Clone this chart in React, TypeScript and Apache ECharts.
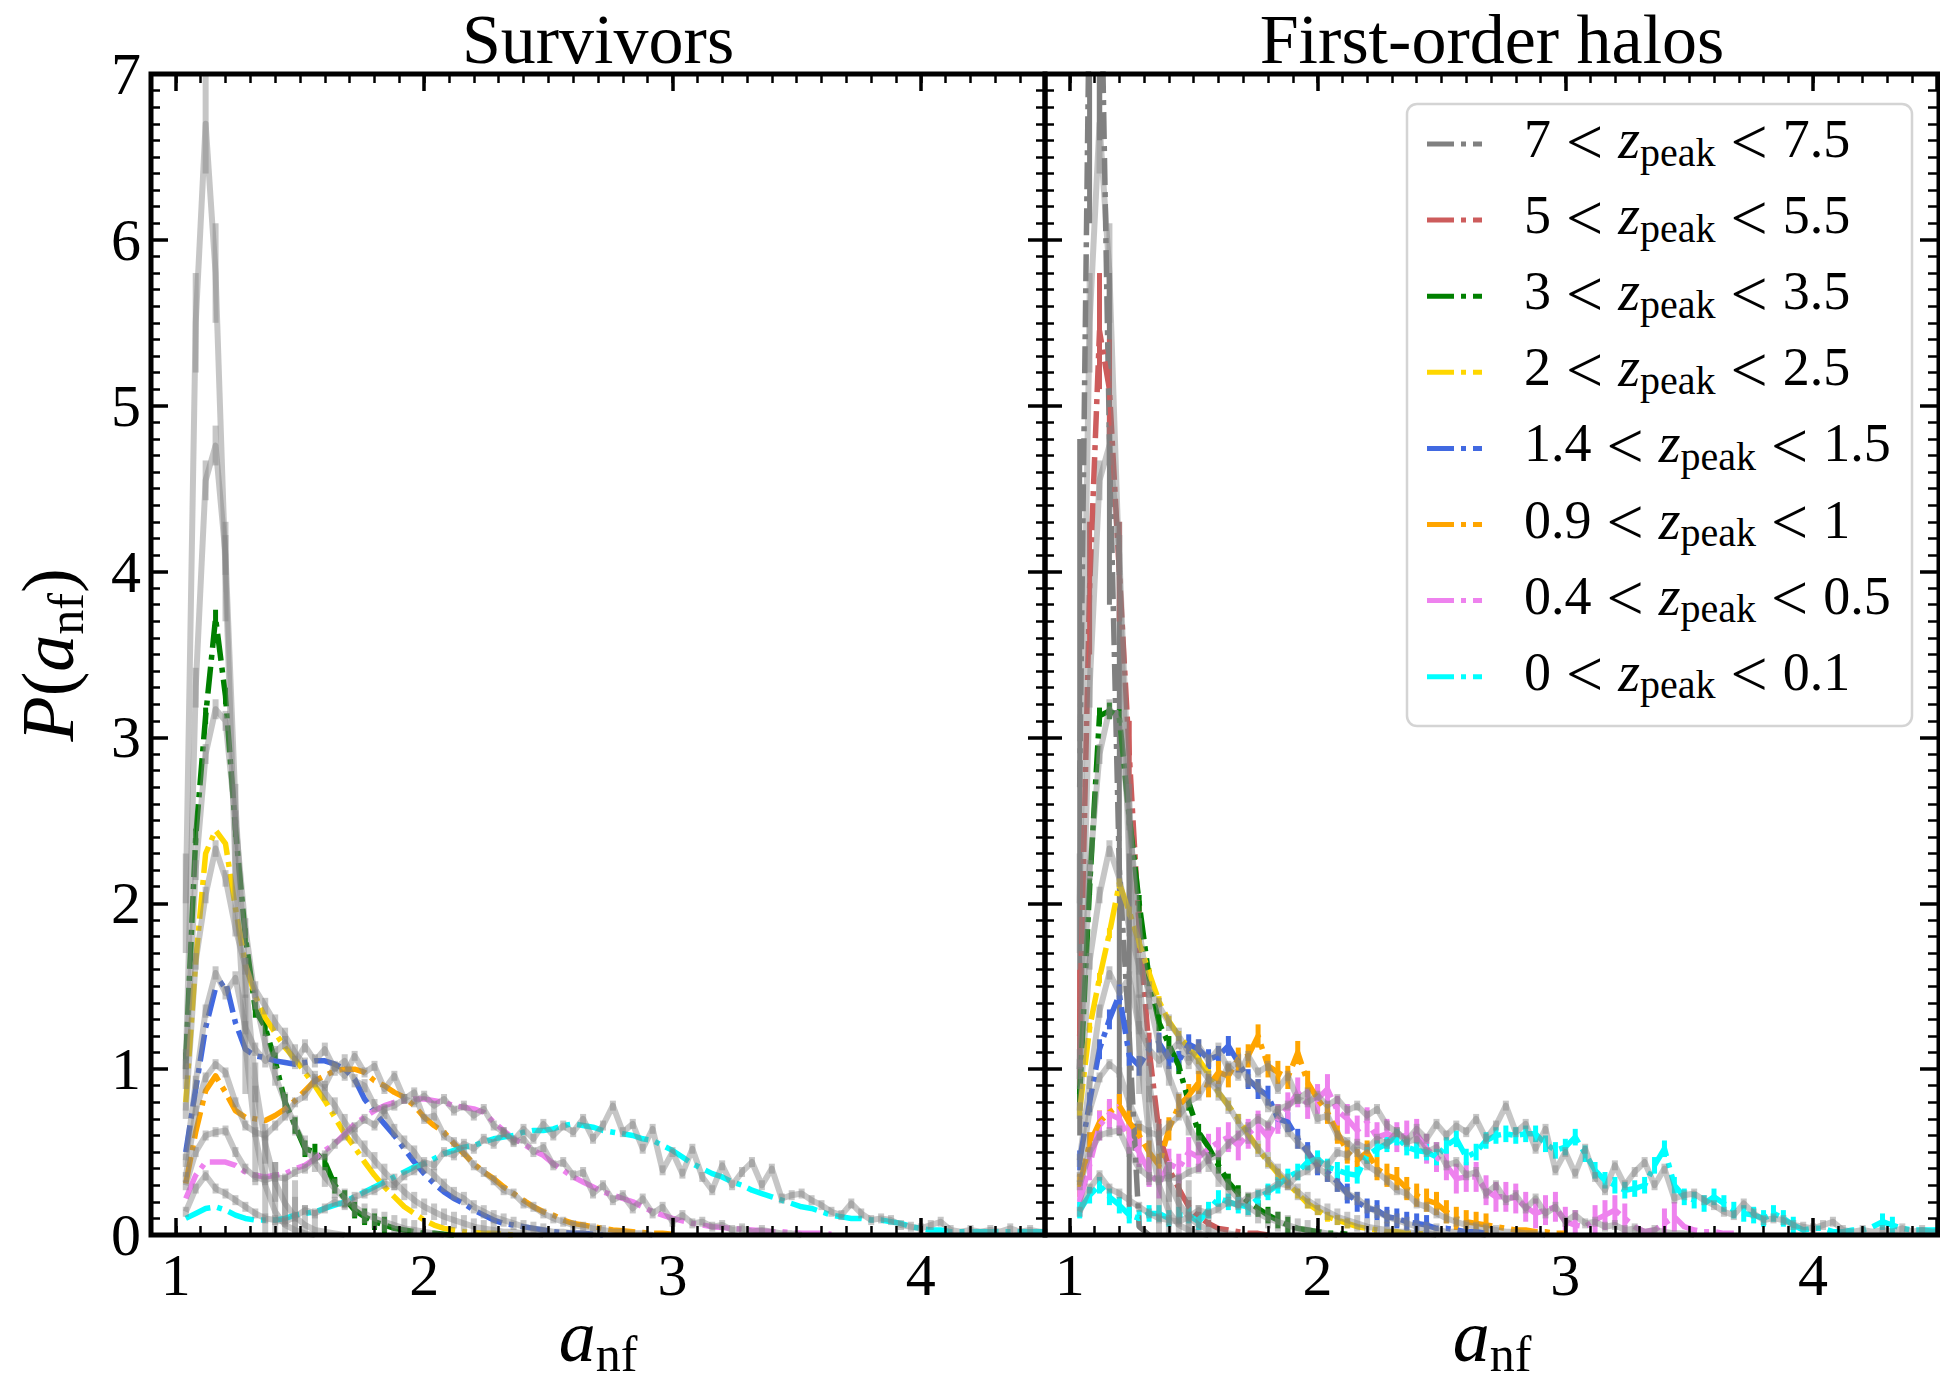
import React, { useEffect, useRef } from "react";
import * as echarts from "echarts";

// ---- histogram layout: bin centres a_nf = BIN_START + i * BIN_WIDTH ----
const BIN_START = 1.04;
const BIN_WIDTH = 0.04;

const X_RANGE = [0.9, 4.5];
const Y_RANGE = [0, 7];
const PANEL_TITLES = ["Survivors", "First-order halos"];

// redshift bins (legend order)
const Z_LOW = ["7", "5", "3", "2", "1.4", "0.9", "0.4", "0"];
const Z_HIGH = ["7.5", "5.5", "3.5", "2.5", "1.5", "1", "0.5", "0.1"];

// ---- grey reference distributions, one per redshift bin (both panels) ----
const REF_Z7 = [2.0, 5.5, 6.7, 5.8, 4.0, 2.2, 1.15, 0.6, 0.3, 0.14, 0.06, 0.03, 0.01, 0.0];
const REF_Z5 = [1.0, 3.3, 4.55, 4.76, 4.1, 2.6, 1.55, 0.92, 0.55, 0.32, 0.19, 0.11, 0.06, 0.03, 0.02, 0.01, 0.0];
const REF_Z3 = [
  1.0, 2.2, 2.9, 3.17, 3.1, 2.5, 1.85, 1.42, 1.15, 0.96,
  0.8, 0.66, 0.54, 0.44, 0.35, 0.28, 0.22, 0.17, 0.13, 0.1,
  0.08, 0.06, 0.04, 0.03, 0.02, 0.01, 0.0,
];
const REF_Z2 = [
  0.75, 1.65, 2.05, 2.33, 2.15, 1.85, 1.62, 1.48, 1.38, 1.28,
  1.2, 1.1, 1.02, 0.94, 0.86, 0.78, 0.68, 0.6, 0.52, 0.45,
  0.38, 0.32, 0.26, 0.21, 0.17, 0.14, 0.11, 0.09, 0.07, 0.05,
  0.04, 0.03, 0.02, 0.02, 0.01, 0.01, 0.0,
];
const REF_Z14 = [
  0.45, 0.92, 1.35, 1.58, 1.46, 1.55, 1.25, 1.12, 1.05, 1.1,
  1.16, 1.04, 1.14, 1.05, 1.12, 1.0, 1.05, 0.93, 0.9, 0.78,
  0.74, 0.63, 0.56, 0.5, 0.41, 0.36, 0.3, 0.25, 0.22, 0.17,
  0.14, 0.11, 0.09, 0.07, 0.05, 0.04, 0.03, 0.02, 0.02, 0.01,
  0.01, 0.0,
];
const REF_Z09 = [
  0.35, 0.75, 0.95, 1.03, 0.98, 0.8, 0.66, 0.62, 0.6, 0.66,
  0.72, 0.8, 0.84, 0.94, 0.9, 1.02, 0.96, 1.08, 0.98, 1.02,
  0.88, 0.96, 0.82, 0.86, 0.7, 0.72, 0.6, 0.56, 0.5, 0.42,
  0.38, 0.33, 0.27, 0.25, 0.19, 0.17, 0.13, 0.1, 0.08, 0.06,
  0.05, 0.04, 0.03, 0.02, 0.02, 0.01, 0.01, 0.0,
];
const REF_Z04 = [
  0.3, 0.5, 0.6, 0.62, 0.63, 0.5, 0.4, 0.35, 0.33, 0.35,
  0.34, 0.38, 0.4, 0.46, 0.48, 0.55, 0.6, 0.65, 0.7, 0.66,
  0.76, 0.78, 0.82, 0.8, 0.84, 0.78, 0.82, 0.75, 0.78, 0.72,
  0.76, 0.66, 0.62, 0.56, 0.58, 0.5, 0.53, 0.42, 0.44, 0.36,
  0.38, 0.25, 0.3, 0.21, 0.24, 0.16, 0.22, 0.13, 0.17, 0.08,
  0.12, 0.07, 0.08, 0.05, 0.06, 0.03, 0.04, 0.02, 0.03, 0.02,
  0.01, 0.01, 0.0,
];
const REF_Z0 = [
  0.14, 0.28, 0.36, 0.28, 0.25, 0.21, 0.17, 0.13, 0.1, 0.09,
  0.08, 0.11, 0.15, 0.13, 0.16, 0.2, 0.18, 0.23, 0.25, 0.27,
  0.31, 0.3, 0.36, 0.39, 0.44, 0.42, 0.5, 0.48, 0.55, 0.52,
  0.58, 0.55, 0.62, 0.57, 0.64, 0.58, 0.67, 0.6, 0.66, 0.62,
  0.7, 0.58, 0.66, 0.78, 0.62, 0.67, 0.52, 0.64, 0.39, 0.5,
  0.37, 0.52, 0.35, 0.27, 0.42, 0.3, 0.38, 0.44, 0.3, 0.4,
  0.22, 0.24, 0.25, 0.21, 0.18, 0.14, 0.12, 0.19, 0.13, 0.09,
  0.1, 0.09, 0.06, 0.05, 0.04, 0.06, 0.08, 0.03, 0.02, 0.03,
  0.02, 0.03, 0.02, 0.04, 0.02, 0.03, 0.02, 0.02,
];
const REF_ERR = [0.3, 0.12, 0.06, 0.05, 0.04, 0.03, 0.03, 0.03];

// ---- survivors (left panel); no survivors in the two highest bins ----
const SURV_Z3 = [
  1.05, 2.4, 3.13, 3.72, 3.25, 2.45, 1.8, 1.36, 1.25, 1.05,
  0.8, 0.66, 0.52, 0.5, 0.44, 0.3, 0.22, 0.15, 0.11, 0.08,
  0.06, 0.04, 0.03, 0.02, 0.01, 0.01, 0.005, 0.0,
];
const SURV_Z2 = [
  0.8, 1.65, 2.3, 2.44, 2.36, 1.97, 1.63, 1.44, 1.31, 1.22,
  1.13, 1.06, 0.98, 0.9, 0.81, 0.71, 0.61, 0.53, 0.44, 0.36,
  0.29, 0.23, 0.17, 0.13, 0.09, 0.06, 0.04, 0.03, 0.02, 0.015,
  0.01, 0.01, 0.005, 0.0,
];
const SURV_Z14 = [
  0.5, 0.88, 1.25, 1.49, 1.53, 1.28, 1.12, 1.08, 1.07, 1.05,
  1.04, 1.03, 1.04, 1.05, 1.05, 1.03, 1.0, 0.94, 0.82, 0.74,
  0.67, 0.6, 0.52, 0.44, 0.37, 0.31, 0.26, 0.22, 0.19, 0.15,
  0.12, 0.09, 0.07, 0.06, 0.05, 0.04, 0.03, 0.02, 0.015, 0.01,
  0.01, 0.005, 0.0,
];
const SURV_Z09 = [
  0.31, 0.62, 0.87, 0.96, 0.86, 0.75, 0.71, 0.7, 0.69, 0.72,
  0.76, 0.81, 0.87, 0.93, 0.96, 0.99, 1.0, 1.0, 0.98, 0.93,
  0.9, 0.86, 0.83, 0.78, 0.71, 0.66, 0.62, 0.55, 0.49, 0.43,
  0.38, 0.34, 0.29, 0.25, 0.21, 0.17, 0.14, 0.12, 0.09, 0.07,
  0.06, 0.05, 0.04, 0.03, 0.025, 0.02, 0.015, 0.01, 0.01, 0.005,
];
const SURV_Z04 = [
  0.22, 0.36, 0.44, 0.44, 0.44, 0.42, 0.38, 0.36, 0.35, 0.36,
  0.37, 0.4, 0.42, 0.46, 0.51, 0.55, 0.61, 0.67, 0.71, 0.75,
  0.78, 0.8, 0.81, 0.82, 0.82, 0.81, 0.8, 0.78, 0.77, 0.76,
  0.74, 0.68, 0.63, 0.58, 0.55, 0.51, 0.48, 0.43, 0.39, 0.35,
  0.32, 0.29, 0.26, 0.24, 0.22, 0.2, 0.17, 0.14, 0.12, 0.1,
  0.085, 0.07, 0.06, 0.05, 0.045, 0.04, 0.035, 0.03, 0.025, 0.02,
  0.02, 0.015, 0.01, 0.01, 0.01, 0.005,
];
const SURV_Z0 = [
  0.1, 0.13, 0.16, 0.17, 0.15, 0.12, 0.1, 0.09, 0.09, 0.09,
  0.1, 0.12, 0.13, 0.14, 0.16, 0.18, 0.2, 0.23, 0.26, 0.29,
  0.32, 0.35, 0.38, 0.41, 0.43, 0.46, 0.49, 0.51, 0.53, 0.54,
  0.56, 0.58, 0.59, 0.6, 0.62, 0.63, 0.63, 0.64, 0.66, 0.67,
  0.66, 0.65, 0.63, 0.62, 0.61, 0.6, 0.58, 0.57, 0.54, 0.51,
  0.47, 0.43, 0.4, 0.37, 0.35, 0.32, 0.3, 0.27, 0.25, 0.23,
  0.21, 0.19, 0.17, 0.16, 0.14, 0.12, 0.11, 0.1, 0.1, 0.09,
  0.09, 0.08, 0.07, 0.05, 0.04, 0.03, 0.03, 0.02, 0.02, 0.02,
  0.02, 0.02, 0.02, 0.02, 0.02, 0.02, 0.02, 0.02,
];
const SURV_ERR = [0, 0, 0.05, 0, 0, 0, 0, 0];

// ---- first-order halos (right panel) ----
const FIRST_Z7 = [2.7, 7.6, 8.2, 4.8, 2.2, 1.2, 0.05, 0.0];
const FIRST_Z7_ERR = [2.1, 1.5, 1.6, 1.0, 1.6, 1.1, 0.3, 0];
const FIRST_Z5 = [
  1.2, 3.9, 5.45, 5.1, 4.0, 2.9, 1.85, 1.12, 0.62, 0.4,
  0.28, 0.17, 0.11, 0.07, 0.04, 0.03, 0.02, 0.01, 0.01, 0.0,
];
const FIRST_Z5_ERR = [
  0.4, 0.4, 0.35, 0.3, 0.3, 0.2, 0.15, 0.1, 0.08, 0.06,
  0.05, 0.04, 0.03, 0.02, 0.02, 0.01, 0, 0, 0, 0,
];
const FIRST_Z3 = [
  0.85, 2.1, 3.13, 3.16, 3.12, 2.52, 2.0, 1.55, 1.28, 1.15,
  1.02, 0.8, 0.62, 0.53, 0.42, 0.32, 0.25, 0.2, 0.16, 0.12,
  0.09, 0.06, 0.04, 0.03, 0.02, 0.01, 0.01, 0.005,
];
const FIRST_Z2 = [
  0.75, 1.25, 1.55, 1.82, 2.12, 1.95, 1.76, 1.58, 1.41, 1.29,
  1.2, 1.13, 1.06, 0.97, 0.86, 0.78, 0.7, 0.61, 0.52, 0.44,
  0.37, 0.31, 0.25, 0.19, 0.15, 0.11, 0.09, 0.07, 0.05, 0.04,
  0.03, 0.02, 0.02, 0.01, 0.01, 0.005,
];
const FIRST_Z14 = [
  0.45, 0.8, 1.12, 1.3, 1.45, 1.08, 1.02, 1.12, 1.16, 1.06,
  1.05, 1.15, 1.12, 1.06, 1.08, 1.14, 1.04, 0.94, 0.88, 0.84,
  0.7, 0.68, 0.58, 0.5, 0.42, 0.38, 0.32, 0.25, 0.2, 0.16,
  0.15, 0.11, 0.1, 0.08, 0.07, 0.06, 0.04, 0.04, 0.03, 0.02,
  0.02, 0.01,
];
const FIRST_Z09 = [
  0.3, 0.55, 0.68, 0.74, 0.78, 0.68, 0.6, 0.5, 0.42, 0.64,
  0.78, 0.84, 0.92, 0.9, 0.98, 0.96, 1.06, 1.08, 1.2, 1.02,
  0.98, 0.95, 1.1, 0.92, 0.82, 0.74, 0.62, 0.5, 0.45, 0.5,
  0.4, 0.36, 0.34, 0.28, 0.24, 0.21, 0.19, 0.14, 0.1, 0.08,
  0.07, 0.06, 0.05, 0.04, 0.03, 0.03, 0.02, 0.02, 0.01, 0.01,
];
const FIRST_Z04 = [
  0.2, 0.42, 0.66, 0.73, 0.7, 0.58, 0.5, 0.38, 0.31, 0.43,
  0.4, 0.5, 0.47, 0.52, 0.56, 0.59, 0.54, 0.61, 0.66, 0.59,
  0.7, 0.77, 0.86, 0.79, 0.82, 0.88, 0.75, 0.7, 0.63, 0.68,
  0.59, 0.61, 0.59, 0.6, 0.61, 0.52, 0.47, 0.42, 0.34, 0.35,
  0.35, 0.27, 0.23, 0.23, 0.22, 0.17, 0.13, 0.15, 0.17, 0.08,
  0.06, 0.05, 0.09, 0.12, 0.15, 0.1, 0.05, 0.02, 0.03, 0.07,
  0.11, 0.05, 0.03, 0.02, 0.02, 0.01, 0.01,
];
const FIRST_Z0 = [
  0.15, 0.24, 0.3, 0.23, 0.18, 0.12, 0.1, 0.13, 0.13, 0.1,
  0.12, 0.12, 0.08, 0.15, 0.22, 0.2, 0.18, 0.17, 0.22, 0.26,
  0.3, 0.35, 0.38, 0.44, 0.46, 0.41, 0.39, 0.37, 0.36, 0.48,
  0.52, 0.55, 0.59, 0.53, 0.51, 0.5, 0.47, 0.54, 0.58, 0.47,
  0.5, 0.57, 0.6, 0.61, 0.6, 0.61, 0.61, 0.55, 0.51, 0.53,
  0.59, 0.49, 0.39, 0.33, 0.3, 0.27, 0.28, 0.3, 0.42, 0.52,
  0.3, 0.23, 0.21, 0.19, 0.23, 0.19, 0.15, 0.13, 0.12, 0.1,
  0.13, 0.1, 0.06, 0.03, 0.04, 0.04, 0.02, 0.02, 0.03, 0.03,
  0.05, 0.08, 0.06, 0.04, 0.03, 0.03, 0.03, 0.03,
];
const FIRST_ERR: (number | number[])[] = [FIRST_Z7_ERR, FIRST_Z5_ERR, 0.05, 0.03, 0.06, 0.07, 0.09, 0.05];

const REF_CURVES = [REF_Z7, REF_Z5, REF_Z3, REF_Z2, REF_Z14, REF_Z09, REF_Z04, REF_Z0];
const PANEL_CURVES = [
  { curves: [null, null, SURV_Z3, SURV_Z2, SURV_Z14, SURV_Z09, SURV_Z04, SURV_Z0], errors: SURV_ERR as (number | number[])[] },
  { curves: [FIRST_Z7, FIRST_Z5, FIRST_Z3, FIRST_Z2, FIRST_Z14, FIRST_Z09, FIRST_Z04, FIRST_Z0], errors: FIRST_ERR },
];

// ---- styling ----
const BIN_COLORS = ["#808080", "#cd5c5c", "#008000", "#ffd700", "#4169e1", "#ffa500", "#ee82ee", "#00ffff"];
const SERIF = "Liberation Serif";
const DASH_DOT = [27, 7, 5, 7];
const COLOUR_WIDTH = 5.5;
const GREY_WIDTH = 6;
const GRIDS = [
  { left: 151, top: 74, width: 894, height: 1161 },
  { left: 1045, top: 74, width: 894, height: 1161 },
];

function binX(i: number) {
  return Math.round((BIN_START + i * BIN_WIDTH) * 1000) / 1000;
}
function linePoints(vals: number[]) {
  return vals.map((v, i) => [binX(i), v]);
}
function errorPoints(vals: number[], err: number | number[], floor: number) {
  const out: number[][] = [];
  vals.forEach((v, i) => {
    const e = Array.isArray(err) ? err[i] ?? 0 : err;
    if (e > 0 && v >= floor) out.push([binX(i), v, e]);
  });
  return out;
}
function errorBarSeries(data: number[][], xIdx: number, yIdx: number, color: string, width: number, opacity: number, z: number) {
  return {
    type: "custom",
    xAxisIndex: xIdx,
    yAxisIndex: yIdx,
    data,
    encode: { x: 0, y: 1 },
    clip: true,
    silent: true,
    z,
    renderItem: (_p: any, api: any) => {
      const x = api.value(0);
      const y = api.value(1);
      const e = api.value(2);
      const a = api.coord([x, y + e]);
      const b = api.coord([x, y - e]);
      return {
        type: "line",
        shape: { x1: a[0], y1: a[1], x2: b[0], y2: b[1] },
        style: { stroke: color, lineWidth: width, opacity },
      };
    },
  };
}

const intLabel = (v: number) => {
  const r = Math.round(v);
  return Math.abs(v - r) < 1e-6 ? String(r) : "";
};

function xAxesFor(g: number) {
  const base = {
    gridIndex: g,
    type: "value",
    min: X_RANGE[0],
    max: X_RANGE[1],
    axisLine: { show: false },
    splitLine: { show: false },
    z: 10,
  };
  const minor = {
    ...base,
    interval: 0.1,
    axisTick: { inside: true, length: 9, lineStyle: { color: "#000", width: 2.5 } },
    axisLabel: { show: false },
  };
  const major = {
    ...base,
    minInterval: 1,
    maxInterval: 1,
    axisTick: { inside: true, length: 17, lineStyle: { color: "#000", width: 3.5 } },
  };
  return [
    { ...minor, position: "bottom" },
    {
      ...major,
      position: "bottom",
      axisLabel: { show: true, fontFamily: SERIF, fontSize: 60, color: "#000", margin: 10, formatter: intLabel },
    },
    { ...minor, position: "top" },
    { ...major, position: "top", axisLabel: { show: false } },
  ];
}

function yAxesFor(g: number) {
  const base = {
    gridIndex: g,
    type: "value",
    min: Y_RANGE[0],
    max: Y_RANGE[1],
    interval: 1,
    axisLine: { show: false },
    splitLine: { show: false },
    z: 10,
    axisTick: { inside: true, length: 17, lineStyle: { color: "#000", width: 3.5 } },
    minorTick: { show: true, splitNumber: 10, length: 9, lineStyle: { color: "#000", width: 2.5 } },
  };
  return [
    { ...base, position: "left", axisLabel: { show: g === 0, fontFamily: SERIF, fontSize: 60, color: "#000", margin: 10 } },
    { ...base, position: "right", axisLabel: { show: false } },
  ];
}

function buildSeries() {
  const series: any[] = [];
  PANEL_CURVES.forEach((panel, g) => {
    const xIdx = g * 4;
    const yIdx = g * 2;
    panel.curves.forEach((vals, k) => {
      if (!vals) return;
      series.push({
        type: "line",
        xAxisIndex: xIdx,
        yAxisIndex: yIdx,
        data: linePoints(vals),
        symbol: "none",
        showSymbol: false,
        clip: true,
        silent: true,
        z: 2,
        lineStyle: { color: BIN_COLORS[k], width: COLOUR_WIDTH, type: DASH_DOT, cap: "butt", join: "round" },
      });
      const bars = errorPoints(vals, panel.errors[k], 0.06);
      if (bars.length) series.push(errorBarSeries(bars, xIdx, yIdx, BIN_COLORS[k], COLOUR_WIDTH - 0.5, 1, 2));
    });
    // grey reference curves, drawn translucent on top
    REF_CURVES.forEach((vals, k) => {
      series.push({
        type: "line",
        xAxisIndex: xIdx,
        yAxisIndex: yIdx,
        data: linePoints(vals),
        symbol: "none",
        showSymbol: false,
        clip: true,
        silent: true,
        z: 3,
        lineStyle: { color: "#808080", width: GREY_WIDTH, opacity: 0.45, join: "round" },
      });
      series.push(errorBarSeries(errorPoints(vals, REF_ERR[k], 0.03), xIdx, yIdx, "#808080", GREY_WIDTH, 0.45, 3));
    });
  });
  return series;
}

function textStyle(extra: any) {
  const s: any = { fill: "#000", ...extra };
  if (s.align) s.textAlign = s.align;
  if (s.verticalAlign) s.textVerticalAlign = s.verticalAlign;
  return s;
}

function buildGraphic() {
  const els: any[] = [];
  const mathRich = {
    i: { font: `italic 74px "${SERIF}"`, fill: "#000", lineHeight: 100 },
    r: { font: `74px "${SERIF}"`, fill: "#000", lineHeight: 100 },
    s: { font: `50px "${SERIF}"`, fill: "#000", lineHeight: 100, padding: [36, 0, 0, 0] },
  };
  GRIDS.forEach((gr, g) => {
    const cx = gr.left + gr.width / 2;
    els.push({
      type: "rect",
      z: 100,
      silent: true,
      shape: { x: gr.left, y: gr.top, width: gr.width, height: gr.height },
      style: { fill: "none", stroke: "#000", lineWidth: 5 },
    });
    els.push({
      type: "text",
      z: 100,
      x: cx,
      y: 39,
      style: textStyle({ text: PANEL_TITLES[g], font: `70px "${SERIF}"`, align: "center", verticalAlign: "middle" }),
    });
    els.push({
      type: "text",
      z: 100,
      x: cx,
      y: 1336,
      style: textStyle({ text: "{i|a}{s|nf}", rich: mathRich, align: "center", verticalAlign: "middle" }),
    });
  });
  els.push({
    type: "text",
    z: 100,
    x: 48,
    y: 655,
    rotation: Math.PI / 2,
    style: textStyle({ text: "{i|P}{r|(}{i|a}{s|nf}{r|)}", rich: mathRich, align: "center", verticalAlign: "middle" }),
  });

  // legend
  const LEG = { x: 1407, y: 104, w: 505, h: 622, row0: 144, dy: 76.1, lineX0: 1427, lineX1: 1482, textX: 1524 };
  els.push({
    type: "rect",
    z: 60,
    silent: true,
    shape: { x: LEG.x, y: LEG.y, width: LEG.w, height: LEG.h, r: 10 },
    style: { fill: "rgba(255,255,255,0.8)", stroke: "#d4d4d4", lineWidth: 2.5 },
  });
  const legRich = {
    n: { font: `54px "${SERIF}"`, fill: "#000", lineHeight: 80 },
    lt: { font: `66px "${SERIF}"`, fill: "#000", lineHeight: 80, padding: [4, 15, 0, 15] },
    z: { font: `italic 56px "${SERIF}"`, fill: "#000", lineHeight: 80 },
    s: { font: `40px "${SERIF}"`, fill: "#000", lineHeight: 80, padding: [26, 0, 0, 0] },
  };
  Z_LOW.forEach((lo, k) => {
    const y = LEG.row0 + LEG.dy * k;
    els.push({
      type: "line",
      z: 61,
      silent: true,
      shape: { x1: LEG.lineX0, y1: y, x2: LEG.lineX1, y2: y },
      style: { stroke: BIN_COLORS[k], lineWidth: 5, lineDash: DASH_DOT },
    });
    els.push({
      type: "text",
      z: 61,
      x: LEG.textX,
      y: y - 5,
      style: textStyle({
        text: `{n|${lo}}{lt|<}{z|z}{s|peak}{lt|<}{n|${Z_HIGH[k]}}`,
        rich: legRich,
        align: "left",
        verticalAlign: "middle",
      }),
    });
  });
  return els;
}

export default function App() {
  const ref = useRef<HTMLDivElement>(null);
  useEffect(() => {
    if (!ref.current) return;
    const chart = echarts.init(ref.current, undefined, { renderer: "svg" });
    chart.setOption({
      animation: false,
      backgroundColor: "#ffffff",
      grid: GRIDS.map((g) => ({ ...g, containLabel: false })),
      xAxis: [...xAxesFor(0), ...xAxesFor(1)],
      yAxis: [...yAxesFor(0), ...yAxesFor(1)],
      series: buildSeries(),
      graphic: buildGraphic(),
    });
    return () => chart.dispose();
  }, []);
  return (
    <div
      ref={ref}
      style={{ position: "fixed", left: 0, top: 0, width: 1940, height: 1381, background: "#fff" }}
    />
  );
}
